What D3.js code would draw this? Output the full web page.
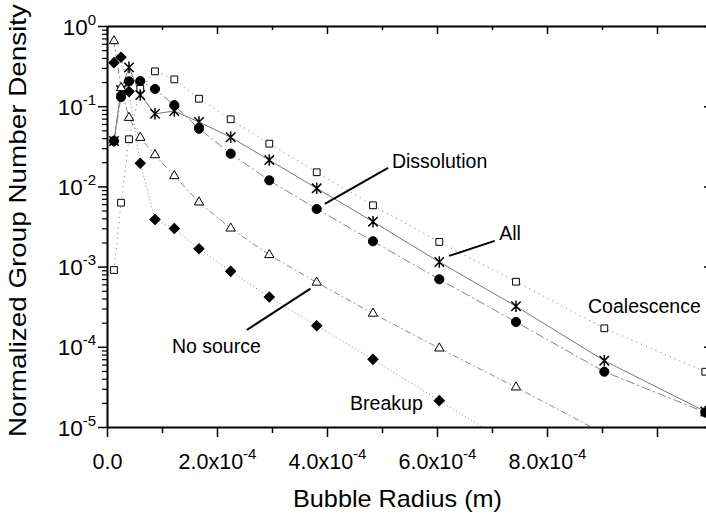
<!DOCTYPE html>
<html>
<head>
<meta charset="utf-8">
<script src="https://cdnjs.cloudflare.com/ajax/libs/d3/7.8.5/d3.min.js"></script>
<style>
  body { margin: 0; background: #fff; }
  svg { display: block; font-family: "Liberation Sans", Arial, sans-serif; }
</style>
</head>
<body>
<script>
var width = 706
    , height = 516
    , margin = {top: 26, left: 107, bottom: 89, right: -6};   // right frame sits just past the window edge

// COLORS
const black = '#000'
const lineGray = '#777'

// DATA  (bubble radius in m, normalized group number density)
const radius = [1.27e-5, 2.55e-5, 4.0e-5, 6.05e-5, 8.73e-5, 1.224e-4, 1.673e-4, 2.249e-4,
                2.951e-4, 3.813e-4, 4.836e-4, 6.042e-4, 7.436e-4, 9.042e-4, 1.0878e-3]

const coalescence = [9.07e-4, 6.26e-3, 0.0387, 0.165, 0.272, 0.216, 0.124, 0.0687,
                     0.0341, 0.0150, 5.81e-3, 2.03e-3, 6.48e-4, 1.70e-4, 4.89e-5]
const all = [0.0368, 0.159, 0.305, 0.138, 0.0806, 0.0871, 0.0635, 0.0410,
             0.0213, 9.47e-3, 3.63e-3, 1.14e-3, 3.20e-4, 6.71e-5, 1.56e-5]
const dissolution = [0.0368, 0.130, 0.204, 0.206, 0.164, 0.103, 0.0524, 0.0256,
                     0.0119, 5.23e-3, 2.07e-3, 6.95e-4, 2.04e-4, 4.89e-5, 1.52e-5]
const noSource = [0.650, 0.169, 0.0719, 0.0405, 0.0246, 0.0135, 6.34e-3, 3.00e-3,
                  1.40e-3, 6.34e-4, 2.60e-4, 9.58e-5, 3.13e-5, 8.2e-6]
const breakup = [0.349, 0.407, 0.152, 0.0194, 3.86e-3, 2.99e-3, 1.67e-3, 8.73e-4,
                 4.18e-4, 1.83e-4, 6.98e-5, 2.13e-5, 5.5e-6]

// TICKS
const yMajor = [1, 1e-1, 1e-2, 1e-3, 1e-4, 1e-5]
const xMajor = [0, 2e-4, 4e-4, 6e-4, 8e-4, 1e-3]
const xMinor = [1e-4, 3e-4, 5e-4, 7e-4, 9e-4]
const xLabels = {0: ['0.0'], 2e-4: ['2.0x10', '-4'], 4e-4: ['4.0x10', '-4'],
                 6e-4: ['6.0x10', '-4'], 8e-4: ['8.0x10', '-4']}

// ANNOTATIONS  (text anchor + pointer, in data units)
const notes = [
  {text: 'Dissolution', at: [5.18e-4, 1.70e-2], from: [3.96e-4, 6.04e-3], to: [5.11e-4, 1.70e-2]},
  {text: 'All',         at: [7.13e-4, 2.15e-3], from: [6.22e-4, 1.36e-3], to: [7.05e-4, 2.09e-3]},
  {text: 'Coalescence', at: [1.0796e-3, 2.64e-4], anchor: 'end'},
  {text: 'No source',   at: [1.18e-4, 8.37e-5], from: [2.54e-4, 1.62e-4], to: [3.70e-4, 5.30e-4]},
  {text: 'Breakup',     at: [4.42e-4, 1.63e-5]}
]

// SCALES
var x = d3.scaleLinear()
        .domain([0, 1.1e-3])
        .range([margin.left, width - margin.right])

var y = d3.scaleLog()
        .domain([1e-5, 1])
        .range([height - margin.bottom, margin.top])

var series = [
  {values: coalescence, shape: 'square',   dash: '1.2,4'},
  {values: all,         shape: 'star',     dash: null},
  {values: dissolution, shape: 'circle',   dash: '9,3,2,3'},
  {values: noSource,    shape: 'triangle', dash: '6,3,1.5,3'},
  {values: breakup,     shape: 'diamond',  dash: '1,2.5'}
]
series.forEach(function(s){
  s.points = s.values.map(function(v, i){ return [radius[i], v] })
})

var svg = d3.select('body').append('svg')
    .attr('width', width)
    .attr('height', height)

svg.append('defs').append('clipPath')
    .attr('id', 'plot-clip')
  .append('rect')
    .attr('x', x.range()[0])
    .attr('y', y.range()[1])
    .attr('width', x.range()[1] - x.range()[0])
    .attr('height', y.range()[0] - y.range()[1])

// LINES
var line = d3.line()
    .x(function(d){ return x(d[0]) })
    .y(function(d){ return y(d[1]) })

var plot = svg.append('g').attr('clip-path', 'url(#plot-clip)')

plot.selectAll('path.series')
    .data(series)
    .enter().append('path')
      .attr('class', 'series')
      .attr('d', function(d){ return line(d.points) })
      .attr('fill', 'none')
      .attr('stroke', function(d){ return d.shape === 'star' ? '#666' : lineGray })
      .attr('stroke-width', 0.9)
      .attr('stroke-dasharray', function(d){ return d.dash })

// MARKERS
var shapes = {
  square:   d3.symbol(d3.symbolSquare, 46)(),
  circle:   d3.symbol(d3.symbolCircle, 66)(),
  triangle: d3.symbol(d3.symbolTriangle, 38)(),
  diamond:  d3.symbol(d3.symbolSquare, 52)(),
  star:     'M-4.7,-4.7L4.7,4.7M-4.7,4.7L4.7,-4.7M0,-5.8L0,5.8'
}

series.forEach(function(s){
  plot.append('g').selectAll('path')
      .data(s.points)
      .enter().append('path')
        .attr('d', shapes[s.shape])
        .attr('transform', function(d){
          var t = 'translate(' + x(d[0]) + ',' + y(d[1]) + ')'
          return s.shape === 'diamond' ? t + ' rotate(45)' : t
        })
        .attr('fill', function(){
          if (s.shape === 'circle' || s.shape === 'diamond') return black
          return s.shape === 'star' ? 'none' : '#fff'
        })
        .attr('stroke', black)
        .attr('stroke-width', s.shape === 'star' ? 1.5 : 1)
})

// AXES
function styleAxis(g){
  g.select('.domain').attr('stroke', black).attr('stroke-width', 2)
  g.selectAll('.tick line').attr('stroke', black).attr('stroke-width', 1.5)
}

var minorY = y.ticks().filter(function(d){ return yMajor.indexOf(d) < 0 })

// left
svg.append('g')
    .attr('transform', 'translate(' + x.range()[0] + ',0)')
    .call(d3.axisLeft(y).tickValues(minorY).tickSize(5).tickFormat(''))
    .call(function(g){ g.select('.domain').remove() })
    .selectAll('.tick line').attr('stroke', black).attr('stroke-width', 1.2)

var yAxisG = svg.append('g')
    .attr('transform', 'translate(' + x.range()[0] + ',0)')
    .call(d3.axisLeft(y).tickValues(yMajor).tickSize(9).tickSizeOuter(0).tickPadding(2))
    .call(styleAxis)

yAxisG.selectAll('.tick text')
    .attr('font-size', 22.5)
    .attr('fill', black)
    .attr('dy', 8)
    .each(function(d){
      var t = d3.select(this).text('')
      t.append('tspan').text('10')
      t.append('tspan').attr('dy', -10).attr('font-size', 15).text(Math.round(Math.log10(d)))
    })

// right
svg.append('g')
    .attr('transform', 'translate(' + x.range()[1] + ',0)')
    .call(d3.axisRight(y).tickValues(yMajor).tickSize(-8).tickSizeOuter(0).tickFormat(''))
    .call(styleAxis)

// bottom
svg.append('g')
    .attr('transform', 'translate(0,' + y.range()[0] + ')')
    .call(d3.axisBottom(x).tickValues(xMinor).tickSize(6).tickFormat(''))
    .call(function(g){ g.select('.domain').remove() })
    .selectAll('.tick line').attr('stroke', black).attr('stroke-width', 1.5)

var xAxisG = svg.append('g')
    .attr('transform', 'translate(0,' + y.range()[0] + ')')
    .call(d3.axisBottom(x).tickValues(xMajor).tickSize(10).tickSizeOuter(0))
    .call(styleAxis)

xAxisG.selectAll('.tick text')
    .attr('font-size', 21.5)
    .attr('fill', black)
    .attr('y', 42)
    .attr('dy', null)
    .each(function(d){
      var t = d3.select(this).text('')
      var lab = xLabels[d]
      if (!lab) return
      t.append('tspan').text(lab[0])
      if (lab[1]) t.append('tspan').attr('dy', -10).attr('font-size', 15).text(lab[1])
    })

// top
svg.append('g')
    .attr('transform', 'translate(0,' + y.range()[1] + ')')
    .call(d3.axisTop(x).tickValues(xMinor).tickSize(-4).tickFormat(''))
    .call(function(g){ g.select('.domain').remove() })
    .selectAll('.tick line').attr('stroke', black).attr('stroke-width', 1.5)

svg.append('g')
    .attr('transform', 'translate(0,' + y.range()[1] + ')')
    .call(d3.axisTop(x).tickValues(xMajor).tickSize(-8).tickSizeOuter(0).tickFormat(''))
    .call(styleAxis)

// AXIS TITLES
svg.append('text')
    .attr('x', 397.5)
    .attr('y', 507)
    .attr('text-anchor', 'middle')
    .attr('font-size', 24)
    .attr('textLength', 209)
    .attr('lengthAdjust', 'spacingAndGlyphs')
    .text('Bubble Radius (m)')

svg.append('text')
    .attr('transform', 'translate(26,220.5) rotate(-90)')
    .attr('text-anchor', 'middle')
    .attr('font-size', 24)
    .attr('textLength', 433)
    .attr('lengthAdjust', 'spacingAndGlyphs')
    .text('Normalized Group Number Density')

// ANNOTATIONS
var notesG = svg.append('g')

notesG.selectAll('line')
    .data(notes.filter(function(d){ return d.from }))
    .enter().append('line')
      .attr('x1', function(d){ return x(d.from[0]) })
      .attr('y1', function(d){ return y(d.from[1]) })
      .attr('x2', function(d){ return x(d.to[0]) })
      .attr('y2', function(d){ return y(d.to[1]) })
      .attr('stroke', black)
      .attr('stroke-width', 2)

notesG.selectAll('text')
    .data(notes)
    .enter().append('text')
      .attr('x', function(d){ return x(d.at[0]) })
      .attr('y', function(d){ return y(d.at[1]) })
      .attr('text-anchor', function(d){ return d.anchor || 'start' })
      .attr('font-size', 19.5)
      .attr('fill', black)
      .text(function(d){ return d.text })
</script>
</body>
</html>
